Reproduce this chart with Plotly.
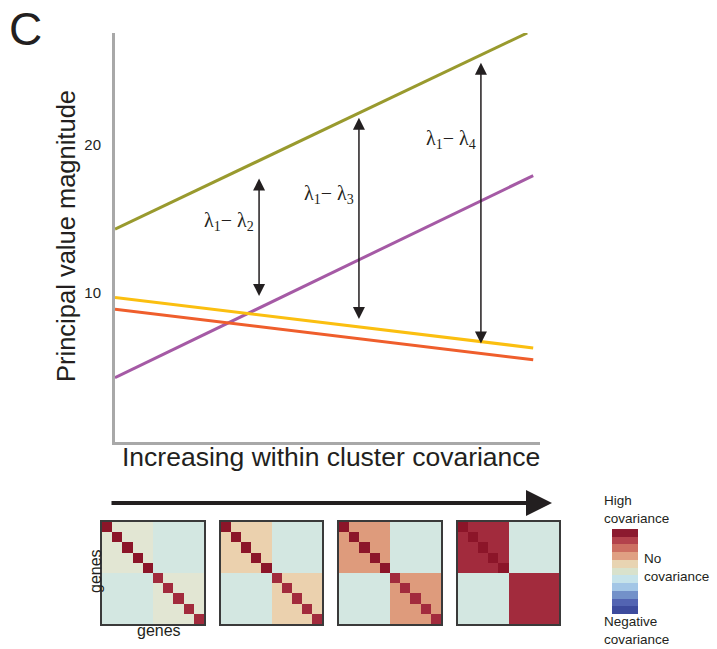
import numpy as np
import plotly.graph_objects as go

# ---------------- data ----------------
green_x = [0.0, 0.97]
green_y = [14.3, 27.5]
purple_x = [0.0, 0.984]
purple_y = [4.3, 17.9]
yellow_x = [0.0, 0.984]
yellow_y = [9.7, 6.3]
orange_x = [0.0, 0.984]
orange_y = [8.9, 5.5]

# double-headed difference arrows: x, top, bottom
gap_labels = ["λ<sub>1</sub>− λ<sub>2</sub>", "λ<sub>1</sub>− λ<sub>3</sub>", "λ<sub>1</sub>− λ<sub>4</sub>"]
gap_x = [0.339, 0.574, 0.861]
gap_top = [17.7, 21.8, 25.5]
gap_bottom = [9.7, 8.15, 6.5]
gap_label_y = [14.8, 16.6, 20.3]

y_tick_vals = [10, 20]

# covariance matrices
n_genes = 10
within_cov = [0.1, 0.3, 0.5, 0.9]
diag_block1 = 1.0
diag_block2 = 0.9
between_cov = 0.0

legend_levels = list(range(11))
legend_colors = ["#3d4b9d", "#5364b2", "#7391c9", "#a3c6e6", "#c6e3ea", "#d9e2cc",
                 "#e8d4b2", "#e0a083", "#cd6f62", "#b3424c", "#8c1a2f"]

# --------------- helpers ---------------
W, H = 717, 649
def px(x): return x / W
def py(y): return 1 - y / H

fig = go.Figure()

line_specs = [
    (green_x, green_y, "#999a2e"),
    (purple_x, purple_y, "#a55aa5"),
    (yellow_x, yellow_y, "#fbbf10"),
    (orange_x, orange_y, "#ef5e2c"),
]
for xs, ys, c in line_specs:
    fig.add_trace(go.Scatter(x=xs, y=ys, mode="lines", line=dict(color=c, width=3),
                             showlegend=False, hoverinfo="skip", xaxis="x", yaxis="y"))

# matrices
def build_matrix(c):
    m = np.full((n_genes, n_genes), between_cov)
    h = n_genes // 2
    m[:h, :h] = c
    m[h:, h:] = c
    for i in range(n_genes):
        m[i, i] = diag_block1 if i < h else diag_block2
    return m

mat_scale = [[0.0, "#d3e7e1"], [0.1, "#e2e6d3"], [0.3, "#ebd1ae"], [0.5, "#de9b7c"],
             [0.9, "#a22b3d"], [1.0, "#8c1529"]]

hm_x = [(102, 204), (221, 322), (339, 441), (458, 559)]
hm_y = (522, 624)
for k, c in enumerate(within_cov):
    ax_id = k + 2
    fig.add_trace(go.Heatmap(z=build_matrix(c), zmin=0, zmax=1, colorscale=mat_scale,
                             showscale=False, hoverinfo="skip",
                             xaxis=f"x{ax_id}", yaxis=f"y{ax_id}"))

# legend color bar (stepped colorscale)
step_scale = []
for i, col in enumerate(legend_colors):
    step_scale.append([i / 11, col])
    step_scale.append([(i + 1) / 11, col])
fig.add_trace(go.Heatmap(z=[[v] for v in legend_levels], zmin=-0.5, zmax=10.5,
                         colorscale=step_scale, showscale=False, hoverinfo="skip",
                         xaxis="x6", yaxis="y6"))

axis_gray = "#a8a8a8"
layout = dict(
    width=W, height=H, margin=dict(l=0, r=0, t=0, b=0),
    plot_bgcolor="white", paper_bgcolor="white",
    font=dict(family="Liberation Sans, Arial, sans-serif", color="#231f20"),
    xaxis=dict(domain=[px(115), px(540)], range=[0, 1], showline=True, linecolor=axis_gray,
               linewidth=3, showticklabels=False, showgrid=False, zeroline=False, ticks="",
               anchor="y"),
    yaxis=dict(domain=[py(441.5), py(33)], range=[0, 27.5], showline=True, linecolor=axis_gray,
               linewidth=3, tickvals=y_tick_vals, showgrid=False, zeroline=False, ticks="",
               tickfont=dict(size=15, color="#231f20"), ticklabelstandoff=8, anchor="x"),
)
for k, (x0, x1) in enumerate(hm_x):
    i = k + 2
    layout[f"xaxis{i}"] = dict(domain=[px(x0), px(x1)], range=[-0.5, 9.5], showline=True, mirror=True,
                               linecolor="#3a3a3a", linewidth=1.5, showticklabels=False,
                               showgrid=False, zeroline=False, ticks="", anchor=f"y{i}")
    layout[f"yaxis{i}"] = dict(domain=[py(hm_y[1]), py(hm_y[0])], range=[9.5, -0.5], showline=True,
                               mirror=True, linecolor="#3a3a3a", linewidth=1.5, showticklabels=False,
                               showgrid=False, zeroline=False, ticks="", anchor=f"x{i}")
layout["xaxis6"] = dict(domain=[px(612), px(638)], range=[-0.5, 0.5], visible=False, anchor="y6")
layout["yaxis6"] = dict(domain=[py(614), py(529)], range=[-0.5, 10.5], visible=False, anchor="x6")

annotations = []
# difference arrows
for lab, gx, gt, gb, gly in zip(gap_labels, gap_x, gap_top, gap_bottom, gap_label_y):
    annotations.append(dict(x=gx, y=gt, ax=gx, ay=gb, xref="x", yref="y", axref="x", ayref="y",
                            showarrow=True, arrowside="end+start", arrowhead=2, arrowsize=1.6,
                            arrowwidth=1.5, arrowcolor="#231f20", text="", standoff=0, startstandoff=0))
    annotations.append(dict(x=gx, y=gly, xref="x", yref="y", text=lab, showarrow=False,
                            xanchor="right", xshift=-3, yanchor="middle",
                            font=dict(family="Liberation Serif, Times New Roman, serif", size=20,
                                      color="#231f20")))

def txt(x, y, s, size, **kw):
    d = dict(x=px(x), y=py(y), xref="paper", yref="paper", text=s, showarrow=False,
             font=dict(size=size, color="#231f20"), xanchor=kw.pop("xanchor", "center"),
             yanchor="middle")
    d.update(kw)
    return d

annotations += [
    txt(25, 29, "C", 46),
    txt(66, 236, "Principal value magnitude", 25.5, textangle=-90),
    txt(331, 457, "Increasing within cluster covariance", 26.5),
    # big arrow
    dict(x=px(552), y=py(503), ax=-(552 - 110), ay=0, xref="paper", yref="paper",
         axref="pixel", ayref="pixel", text="", showarrow=True, arrowhead=2, arrowsize=1.3,
         arrowwidth=4, arrowcolor="#231f20", standoff=0),
    txt(95, 571, "genes", 16, textangle=-90),
    txt(159, 630, "genes", 16),
    txt(602, 509, "High<br>covariance", 13.5, xanchor="left", align="left"),
    txt(642, 567, "No<br>covariance", 13.5, xanchor="left", align="left"),
    txt(602, 630, "Negative<br>covariance", 13.5, xanchor="left", align="left"),
]
layout["annotations"] = annotations
fig.update_layout(**layout)
fig.write_html("out.html", config={"displayModeBar": False},
               post_script="document.body.style.margin='0';")
